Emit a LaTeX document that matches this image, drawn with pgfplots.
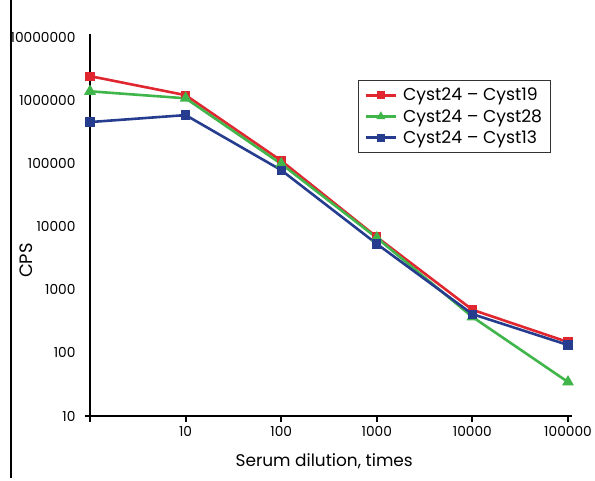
\documentclass[border=0pt]{standalone}
\usepackage{pgfplots}
\pgfplotsset{compat=1.18}
\usepackage{fontspec}
\setmainfont{Poppins}
\definecolor{cred}{RGB}{224,38,47}
\definecolor{cgreen}{RGB}{63,181,74}
\definecolor{cblue}{RGB}{38,61,143}
\begin{document}
\begin{tikzpicture}[x=1bp,y=1bp]
\useasboundingbox (0,0) rectangle (595,481);
\draw[line width=1.2bp] (11,481) -- (11,3);
\begin{axis}[
  at={(90bp,65bp)}, anchor=south west,
  scale only axis, width=478bp, height=379bp,
  xmode=log, ymode=log,
  xmin=1, xmax=100000, ymin=10, ymax=10000000,
  axis x line=bottom, axis y line=left,
  axis line style={line width=2bp,-},
  x axis line style={shorten <=-5bp, shorten >=-4bp},
  y axis line style={shorten <=-6bp, shorten >=-3bp},
  xtick={10,100,1000,10000,100000},
  xticklabels={10,100,1000,10000,100000},
  ytick={10,100,1000,10000,100000,1000000,10000000},
  yticklabels={10,100,1000,10000,100000,1000000,10000000},
  xminorticks=false, yminorticks=false,
  xtick style={line width=2bp, black},
  ytick style={draw=none},
  tick align=outside, major tick length=6bp,
  tick label style={font=\fontsize{13.8}{16}\selectfont},
  /pgf/number format/assume math mode=true,
  xticklabel style={yshift=-1bp},
  yticklabel style={xshift=-5bp},
  xlabel={Serum dilution, times},
  ylabel={CPS},
  label style={font=\fontsize{17}{20}\selectfont},
  xlabel style={at={(axis description cs:0.49,-0.12)}, anchor=center},
  ylabel style={at={(axis description cs:-0.134,0.41)}, anchor=center, font=\fontsize{18}{20}\selectfont},
  legend style={at={(axis description cs:0.561,0.887)}, anchor=north west,
    draw=black!80, line width=0.8bp, font=\fontsize{17.3}{20}\selectfont,
    inner xsep=6bp, inner ysep=6bp, row sep=3bp,
    /tikz/every odd column/.append style={column sep=4bp}},
  legend cell align=left,
  legend image code/.code={\draw[mark repeat=2,mark phase=2,#1,mark size=2.6bp]
     plot coordinates {(0bp,0bp) (15bp,0bp) (30bp,0bp)};},
  clip=false,
]
\addplot[cred, line width=2.6bp, mark=square*, mark size=3.3bp] coordinates {
(1,2400000) (10,1200000) (100,110000) (1000,6800) (10000,480) (100000,148)};
\addlegendentry{Cyst24 -- Cyst19}
\addplot[cgreen, line width=2.6bp, mark=triangle*, mark size=4.3bp] coordinates {
(1,1380000) (10,1070000) (100,98000) (1000,6600) (10000,370) (100000,34.5)};
\addlegendentry{Cyst24 -- Cyst28}
\addplot[cblue, line width=2.6bp, mark=square*, mark size=3.3bp] coordinates {
(1,450000) (10,580000) (100,78000) (1000,5300) (10000,410) (100000,133)};
\addlegendentry{Cyst24 -- Cyst13}
\end{axis}
\end{tikzpicture}
\end{document}
